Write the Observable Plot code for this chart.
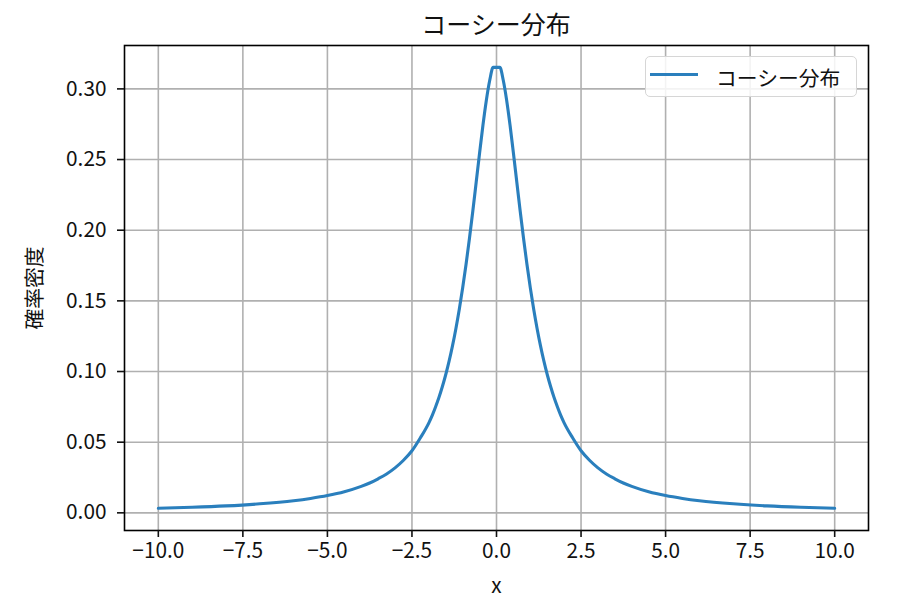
<!DOCTYPE html>
<html>
<head>
<meta charset="utf-8">
<script src="https://cdn.jsdelivr.net/npm/d3@7"></script>
<script src="https://cdn.jsdelivr.net/npm/@observablehq/plot@0.6"></script>
<style>
  html, body { margin: 0; padding: 0; background: #fff; }
  body { font-family: "Noto Sans CJK JP", "Noto Sans", sans-serif; }
  #wrap { position: relative; width: 898px; height: 602px; overflow: hidden; }
  #title { position: absolute; left: 124px; width: 744px; top: 0; height: 45px; line-height: 46px;
           text-align: center; font-size: 25px; color: #111; }
  #chart { position: absolute; left: 0; top: 43px; }
  #legend { position: absolute; left: 645px; top: 56px; width: 212px; height: 41px; box-sizing: border-box;
            border: 1px solid #d6d6d6; border-radius: 5px; background: rgba(255,255,255,0.85); }
  #legend .swatch { position: absolute; left: 4px; top: 15.5px; width: 48px; height: 3px; background: #2a7fbd; }
  #legend .label { position: absolute; left: 70px; top: 0; line-height: 40px; font-size: 20.8px; color: #111; white-space: nowrap; }
</style>
</head>
<body>
<div id="wrap">
  <div id="title"></div>
  <div id="chart"></div>
  <div id="legend"><div class="swatch"></div><div class="label"></div></div>
</div>
<script>
// ---- data ----
const chartTitle = "コーシー分布";
const seriesName = "コーシー分布";
const xLabel = "x";
const yLabel = "確率密度";

const xValues = [-10, -9, -8, -7, -6, -5.5, -5, -4.5, -4, -3.75, -3.5, -3.25, -3, -2.75, -2.5, -2.25, -2, -1.9, -1.8, -1.7, -1.6, -1.5, -1.4, -1.3, -1.2, -1.1, -1, -0.9, -0.8, -0.7, -0.6, -0.5, -0.4, -0.3, -0.2, -0.1,
                 0.1, 0.2, 0.3, 0.4, 0.5, 0.6, 0.7, 0.8, 0.9, 1, 1.1, 1.2, 1.3, 1.4, 1.5, 1.6, 1.7, 1.8, 1.9, 2, 2.25, 2.5, 2.75, 3, 3.25, 3.5, 3.75, 4, 4.5, 5, 5.5, 6, 7, 8, 9, 10];
const densityValues = [0.0032, 0.0039, 0.0049, 0.0064, 0.0086, 0.0102, 0.0122, 0.0149, 0.0187, 0.0211, 0.0241, 0.0275, 0.0318, 0.0372, 0.0439, 0.0531, 0.0637, 0.0690, 0.0751, 0.0818, 0.0894, 0.0979, 0.1075, 0.1183, 0.1305, 0.1440, 0.1592, 0.1759, 0.1941, 0.2136, 0.2341, 0.2546, 0.2744, 0.2920, 0.3061, 0.3152,
                       0.3152, 0.3061, 0.2920, 0.2744, 0.2546, 0.2341, 0.2136, 0.1941, 0.1759, 0.1592, 0.1440, 0.1305, 0.1183, 0.1075, 0.0979, 0.0894, 0.0818, 0.0751, 0.0690, 0.0637, 0.0531, 0.0439, 0.0372, 0.0318, 0.0275, 0.0241, 0.0211, 0.0187, 0.0149, 0.0122, 0.0102, 0.0086, 0.0064, 0.0049, 0.0039, 0.0032];

const xTicks = [-10, -7.5, -5, -2.5, 0, 2.5, 5, 7.5, 10];
const yTicks = [0, 0.05, 0.10, 0.15, 0.20, 0.25, 0.30];

// ---- build ----
const data = xValues.map((x, i) => ({x, y: densityValues[i]}));
const minus = s => s.replace("-", "\u2212");

document.getElementById("title").textContent = chartTitle;
document.querySelector("#legend .label").textContent = seriesName;

const fontSize = 20.8;
const chart = Plot.plot({
  width: 898,
  height: 557,
  marginLeft: 124,
  marginRight: 30,
  marginTop: 2,
  marginBottom: 70,
  style: {fontFamily: '"Noto Sans CJK JP", "Noto Sans", sans-serif', fontSize: fontSize + "px", color: "#111", background: "#fff", overflow: "visible"},
  x: {domain: [-11, 11]},
  y: {domain: [-0.0125, 0.3307]},
  marks: [
    Plot.gridX(xTicks, {stroke: "#b0b0b0", strokeOpacity: 1, strokeWidth: 1.6}),
    Plot.gridY(yTicks, {stroke: "#b0b0b0", strokeOpacity: 1, strokeWidth: 1.6}),
    Plot.line(data, {x: "x", y: "y", stroke: "#2a7fbd", strokeWidth: 3.1, curve: "monotone-x"}),
    Plot.frame({stroke: "#000", strokeWidth: 1.6}),
    Plot.axisX(xTicks, {tickSize: 7, tickPadding: 6, strokeWidth: 1.6, label: null,
      tickFormat: d => minus(d.toFixed(1)), fontSize: fontSize}),
    Plot.axisY(yTicks, {tickSize: 7, tickPadding: 11, strokeWidth: 1.6, label: null,
      tickFormat: d => d.toFixed(2), fontSize: fontSize}),
    Plot.text([xLabel], {frameAnchor: "bottom", text: d => d, dy: 56, lineAnchor: "middle", fontSize: fontSize, fill: "#111"}),
    Plot.text([yLabel], {frameAnchor: "left", text: d => d, dx: -89, rotate: -90, textAnchor: "middle", lineAnchor: "middle", fontSize: fontSize, fill: "#111"})
  ]
});
document.getElementById("chart").appendChild(chart);
</script>
</body>
</html>
